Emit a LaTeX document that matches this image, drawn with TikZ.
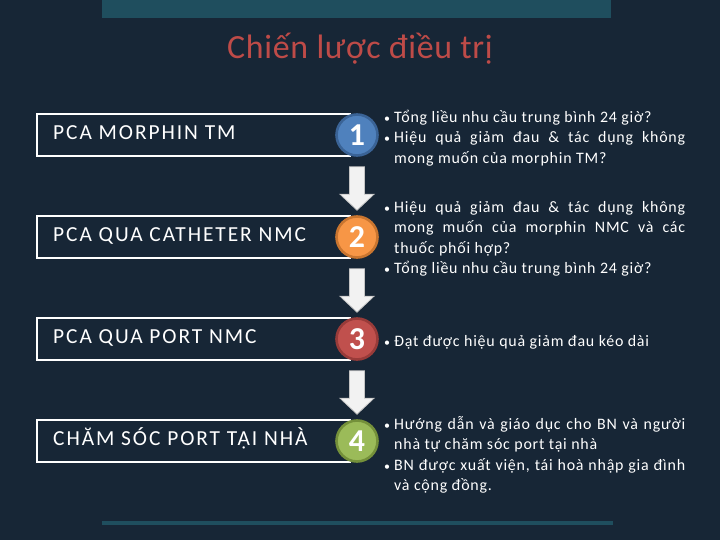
\documentclass[tikz,border=0pt]{standalone}
\usepackage{fontspec}
\setmainfont{Carlito}
\newfontfamily\lblfont[LetterSpace=9]{Carlito}
\newfontfamily\descfont[LetterSpace=5]{Carlito}
\newfontfamily\titlefont[LetterSpace=2]{Carlito}
\usetikzlibrary{calc}
\definecolor{bg}{HTML}{172636}
\definecolor{barc}{HTML}{1F4E5E}
\definecolor{titlec}{HTML}{BE4B48}
\definecolor{cA}{HTML}{4F81BD}\definecolor{cAd}{HTML}{3A6396}
\definecolor{cB}{HTML}{F79646}\definecolor{cBd}{HTML}{C9752F}
\definecolor{cC}{HTML}{C0504D}\definecolor{cCd}{HTML}{983B39}
\definecolor{cD}{HTML}{9BBB59}\definecolor{cDd}{HTML}{74903A}
\definecolor{arrfill}{HTML}{F2F2F2}\definecolor{arrdraw}{HTML}{C4C4C4}
\newcommand\bitem[1]{\hangindent=11bp\hangafter=1\noindent\makebox[11bp][l]{\hspace{1bp}{\fontsize{12}{12}\selectfont\textbullet}}\rule{0pt}{15bp}#1\par}
\tikzset{
  lblbox/.style={draw=white, line width=1.1bp, minimum width=313bp, minimum height=42bp, inner sep=0pt},
  lbltext/.style={text=white, font=\lblfont\fontsize{21.5}{24}\selectfont, inner sep=0pt, anchor=base west},
  numcirc/.style={circle, minimum size=41bp, line width=2.6bp, inner sep=0pt, text=white, font=\fontsize{32}{32}\selectfont\bfseries},
  desc/.style={text=white, anchor=north west, inner sep=0pt, text width=302bp, align=justify, font=\descfont\fontsize{16}{20.5}\selectfont},
  arr/.style={fill=arrfill, draw=arrdraw, line width=0.8bp, line join=miter},
}
\begin{document}
\begin{tikzpicture}[x=1bp,y=-1bp]
\useasboundingbox (0,0) rectangle (720,540);
\fill[bg] (0,0) rectangle (720,540);
\fill[barc] (102,0) rectangle (611,18);
\fill[barc] (102,521) rectangle (613,525);
\node[text=titlec, font=\titlefont\fontsize{34}{38}\selectfont, anchor=base, inner sep=0pt] (title) at (360,59) {Chiến lược điều trị};
% label boxes
\node[lblbox] (b1) at (193.5,135) {};
\node[lblbox] (b2) at (193.5,237) {};
\node[lblbox] (b3) at (193.5,339) {};
\node[lblbox] (b4) at (193.5,441) {};
\node[lbltext] (t1) at (53,139.3) {PCA MORPHIN TM};
\node[lbltext] (t2) at (53,241.3) {PCA QUA CATHETER NMC};
\node[lbltext] (t3) at (53,343.3) {PCA QUA PORT NMC};
\node[lbltext] (t4) at (53,445.3) {CHĂM SÓC PORT TẠI NHÀ};
% circles
\node[numcirc, fill=cA, draw=cAd] (n1) at (357,135) {1};
\node[numcirc, fill=cB, draw=cBd] (n2) at (357,237) {2};
\node[numcirc, fill=cC, draw=cCd] (n3) at (357,339) {3};
\node[numcirc, fill=cD, draw=cDd] (n4) at (357,441) {4};
% arrows
\foreach \a/\b in {n1/n2,n2/n3,n3/n4}{
  \draw[arr] let \p1=($(\a.south)+(0,10)$), \p2=($(\b.north)+(0,-5)$) in
    (\x1-7.5bp,\y1) -- (\x1+7.5bp,\y1) -- (\x1+7.5bp,\y2+16bp) -- (\x1+17bp,\y2+16bp)
    -- (\x1,\y2) -- (\x1-17bp,\y2+16bp) -- (\x1-7.5bp,\y2+16bp) -- cycle;
}
% descriptions
\node[desc] (d1) at (383,107) {\bitem{Tổng liều nhu cầu trung bình 24 giờ?}\bitem{Hiệu quả giảm đau \& tác dụng không\linebreak mong muốn của morphin TM?}};
\node[desc] (d2) at (383,197) {\bitem{Hiệu quả giảm đau \& tác dụng không\linebreak mong muốn của morphin NMC và các\linebreak thuốc phối hợp?}\bitem{Tổng liều nhu cầu trung bình 24 giờ?}};
\node[desc] (d3) at (383,331) {\bitem{Đạt được hiệu quả giảm đau kéo dài}};
\node[desc] (d4) at (383,414) {\bitem{Hướng dẫn và giáo dục cho BN và người\linebreak nhà tự chăm sóc port tại nhà}\bitem{BN được xuất viện, tái hoà nhập gia đình\linebreak và cộng đồng.}};
\end{tikzpicture}
\end{document}
